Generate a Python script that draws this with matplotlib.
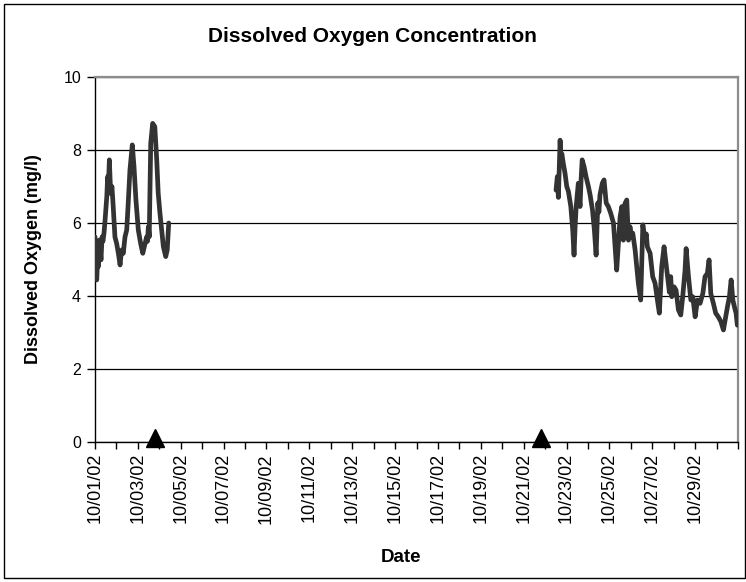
import datetime as dt
import matplotlib
matplotlib.use("Agg")
import matplotlib.pyplot as plt
import matplotlib.dates as mdates
from matplotlib.ticker import FuncFormatter, FixedLocator
from matplotlib.transforms import ScaledTranslation
from matplotlib.patches import Rectangle

# ---------------- data (days since 10/01/02 00:00, DO in mg/l) ----------------
seg1_days = [0.00, 0.04, 0.08, 0.12, 0.15, 0.20, 0.24, 0.28, 0.33, 0.37,
             0.42, 0.47, 0.55, 0.59, 0.63, 0.67, 0.73, 0.79, 0.85, 0.93,
             1.01, 1.09, 1.17, 1.21, 1.25, 1.32, 1.40, 1.48, 1.55, 1.63,
             1.74, 1.82, 1.91, 2.02, 2.13, 2.23, 2.30, 2.41, 2.45, 2.49,
             2.53, 2.60, 2.69, 2.79, 2.88, 2.95, 3.03, 3.11, 3.19, 3.30,
             3.37, 3.44]
seg1_do = [5.62, 5.10, 4.44, 5.00, 4.80, 5.53, 5.30, 4.99, 5.62, 5.50,
           5.72, 6.08, 6.72, 7.27, 7.10, 7.73, 6.81, 7.00, 6.45, 5.62,
           5.44, 5.17, 4.85, 5.10, 5.26, 5.17, 5.62, 5.81, 6.54, 7.45,
           8.14, 7.54, 6.63, 5.81, 5.44, 5.17, 5.35, 5.62, 5.50, 5.90,
           5.62, 8.18, 8.73, 8.64, 7.73, 6.81, 6.27, 5.81, 5.35, 5.08,
           5.26, 6.00]

seg2_days = [21.51, 21.57, 21.62, 21.70, 21.74, 21.78, 21.85, 21.93, 22.01, 22.09,
             22.20, 22.29, 22.35, 22.40, 22.45, 22.55, 22.63, 22.68, 22.73, 22.82,
             22.91, 23.02, 23.10, 23.21, 23.30, 23.38, 23.46, 23.51, 23.56, 23.67,
             23.75, 23.85, 23.95, 24.06, 24.19, 24.34, 24.42, 24.50, 24.58, 24.65,
             24.73, 24.81, 24.89, 24.96, 25.04, 25.09, 25.20, 25.35, 25.46, 25.56,
             25.66, 25.72, 25.77, 25.90, 26.02, 26.13, 26.24, 26.33, 26.44, 26.55,
             26.64, 26.75, 26.80, 26.86, 26.91, 27.02, 27.11, 27.22, 27.33, 27.42,
             27.53, 27.58, 27.69, 27.80, 27.89, 28.00, 28.11, 28.23, 28.36, 28.46,
             28.57, 28.65, 28.73, 28.85, 28.96, 29.08, 29.20, 29.32, 29.40, 29.51,
             29.60, 29.68, 29.76, 29.83, 29.91, 29.97]
seg2_do = [6.90, 7.27, 6.70, 8.27, 7.70, 7.90, 7.63, 7.36, 7.00, 6.86,
           6.45, 5.80, 5.12, 5.90, 6.45, 7.09, 6.45, 7.20, 7.73, 7.54,
           7.27, 7.00, 6.77, 6.36, 5.80, 5.12, 6.55, 6.30, 6.77, 7.09,
           7.18, 6.55, 6.45, 6.27, 6.00, 4.71, 5.44, 6.17, 6.45, 5.53,
           6.54, 6.63, 5.53, 5.90, 5.60, 5.72, 5.26, 4.35, 3.89, 5.95,
           5.53, 5.70, 5.35, 5.17, 4.53, 4.35, 3.89, 3.53, 4.80, 5.35,
           4.90, 4.35, 4.10, 4.53, 3.98, 4.25, 4.16, 3.62, 3.48, 3.98,
           4.71, 5.30, 4.53, 3.89, 3.98, 3.43, 3.89, 3.80, 4.07, 4.53,
           4.62, 4.99, 4.07, 3.80, 3.53, 3.43, 3.30, 3.07, 3.34, 3.71,
           3.98, 4.44, 3.89, 3.71, 3.53, 3.20]

event_days = [2.80, 20.80]
event_values = [0, 0]

y_ticks = [0, 2, 4, 6, 8, 10]
n_days = 30
title = "Dissolved Oxygen Concentration"
x_title = "Date"
y_title = "Dissolved Oxygen (mg/l)"

# ---------------- plotting ----------------
FONT = ["Liberation Sans", "DejaVu Sans"]
plt.rcParams["font.family"] = FONT

base = mdates.date2num(dt.datetime(2002, 10, 1))

fig = plt.figure(figsize=(7.46, 5.82), dpi=100)
ax = fig.add_axes([95 / 746, 1 - 442 / 582, (738 - 95) / 746, (442 - 77) / 582])

x1 = [base + d for d in seg1_days]
x2 = [base + d for d in seg2_days]
line_kw = dict(color="#333333", lw=3.4, solid_joinstyle="round", solid_capstyle="round", zorder=3)
ax.plot(x1, seg1_do, **line_kw)
ax.plot(x2, seg2_do, **line_kw)

shift = ScaledTranslation(0, 4 / 100, fig.dpi_scale_trans)
ax.plot([base + d for d in event_days], event_values, ls="none", marker="^",
        ms=12.5, color="black", clip_on=False, zorder=6,
        transform=ax.transData + shift)

ax.set_xlim(base, base + n_days)
ax.set_ylim(y_ticks[0], y_ticks[-1])
ax.set_yticks(y_ticks)
ax.set_yticklabels([str(v) for v in y_ticks])

ax.xaxis.set_major_locator(FixedLocator([base + i for i in range(n_days + 1)]))


def fmt(x, pos):
    d = mdates.num2date(x)
    off = int(round(x - base))
    if off % 2 == 0 and off < n_days:
        return d.strftime("%m/%d/%y")
    return ""


ax.xaxis.set_major_formatter(FuncFormatter(fmt))
ax.tick_params(axis="x", direction="out", length=5, width=1, pad=3,
               labelsize=13, labelrotation=90, colors="black")
ax.tick_params(axis="y", direction="out", length=6, width=1, pad=4,
               labelsize=11.5, colors="black")

ax.yaxis.grid(True, color="black", lw=0.9)
ax.set_axisbelow(True)
for s in ("left", "bottom"):
    ax.spines[s].set_color("black")
    ax.spines[s].set_linewidth(1.0)
for s in ("top", "right"):
    ax.spines[s].set_color("#8c8c8c")
    ax.spines[s].set_linewidth(1.6)

fig.text(372 / 746, 1 - 37 / 582, title, ha="center", va="center",
         fontsize=15, fontweight="bold")
fig.text(401 / 746, 1 - 558 / 582, x_title, ha="center", va="center",
         fontsize=13.5, fontweight="bold")
fig.text(34 / 746, 1 - 259 / 582, y_title, ha="center", va="center",
         rotation=90, fontsize=13, fontweight="bold")

fig.add_artist(Rectangle((4 / 746, 4 / 582), 741 / 746, 574 / 582,
                         transform=fig.transFigure, fill=False,
                         edgecolor="black", lw=1.0))

fig.savefig("out.png", dpi=100)
